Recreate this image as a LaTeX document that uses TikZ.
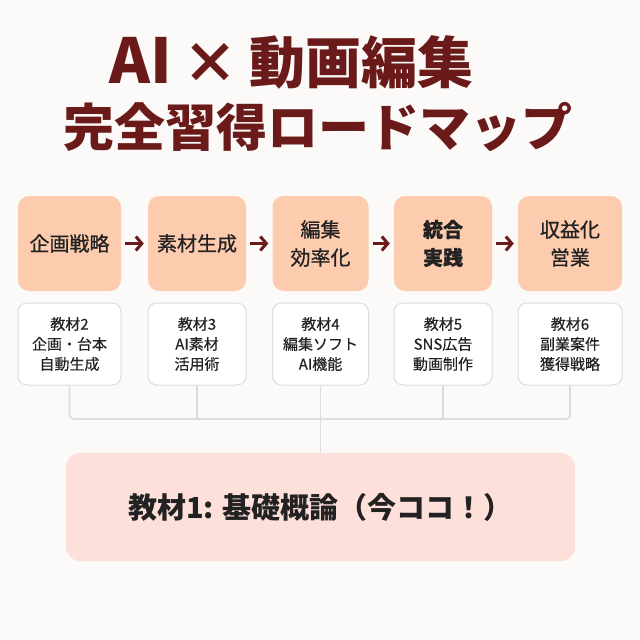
\documentclass[tikz,border=0pt]{standalone}
\usepackage{fontspec}
\setmainfont{Noto Sans CJK JP}
\newfontfamily\midfont[FakeBold=0.7]{Noto Sans CJK JP}
\newfontfamily\lightbold[FakeBold=0.35]{Noto Sans CJK JP}
\usetikzlibrary{arrows.meta}
\definecolor{wine}{HTML}{6B1A1A}
\definecolor{peach}{HTML}{FDCBAD}
\definecolor{blush}{HTML}{FEE0DA}
\definecolor{rim}{HTML}{DDDDDD}
\definecolor{paper}{HTML}{FBFAF8}
\definecolor{ink}{HTML}{222222}

\begin{document}
\begin{tikzpicture}[x=1pt,y=-1pt,
    stage/.style={fill=peach,rounded corners=11pt,inner sep=0pt,text=ink,
      minimum height=95pt,align=center,font=\fontsize{20}{28}\midfont},
    unit/.style={draw=rim,line width=1pt,fill=white,rounded corners=9pt,
      inner sep=0pt,minimum height=82pt,align=center,text=ink,
      font=\fontsize{15}{20}\lightbold},
    link/.style={draw=rim,line width=1.6pt},
    step arrow/.style={wine,line width=3pt,
      -{Straight Barb[length=6pt,width=14pt,line width=3pt]}}]
      \useasboundingbox (0,0) rectangle (640,640) ;
      \fill[paper] (0,0) rectangle (640,640) ;
      % title
      \node[wine,font=\fontsize{56}{60}\bfseries] (t1) at (291.5,62)
        {{\fontsize{62}{60}\selectfont AI}\hspace{-2pt} × \hspace{-2pt}動画編集} ;
      \node[wine,font=\fontsize{51}{60}\bfseries] (t2) at (318,127) {完全習得ロードマップ} ;
      % stages
      \node[stage,minimum width=103pt] (p1) at (69.5,243.5) {企画戦略} ;
      \node[stage,minimum width=98pt] (p2) at (197,243.5) {素材生成} ;
      \node[stage,minimum width=96pt] (p3) at (320.5,243.5) {編集\\効率化} ;
      \node[stage,minimum width=98pt] (p4) at (443,243.5) {\bfseries 統合\\\bfseries 実践} ;
      \node[stage,minimum width=104pt] (p5) at (570,243.5) {収益化\\営業} ;
      \foreach \a/\b in {p1/p2,p2/p3,p3/p4,p4/p5}
        \draw[step arrow] ([xshift=4pt]\a.east) -- ([xshift=-4pt]\b.west) ;
      % textbooks
      \node[unit,minimum width=103pt] (s1) at (69.5,344) {教材2\\企画・台本\\自動生成} ;
      \node[unit,minimum width=98pt] (s2) at (197,344) {教材3\\AI素材\\活用術} ;
      \node[unit,minimum width=96pt] (s3) at (320.5,344) {教材4\\編集ソフト\\AI機能} ;
      \node[unit,minimum width=98pt] (s4) at (443,344) {教材5\\SNS広告\\動画制作} ;
      \node[unit,minimum width=104pt] (s5) at (570,344) {教材6\\副業案件\\獲得戦略} ;
      % base
      \node[fill=blush,rounded corners=14pt,minimum width=509pt,minimum height=108pt,
        text=ink,font=\fontsize{29}{34}\bfseries] (base) at (320.5,507) {教材1: 基礎概論（今ココ！）} ;
      \coordinate (hub) at (320.5,419) ;
      \draw[link,rounded corners=4pt] (s1.south) |- (hub) -| (s5.south) ;
      \draw[link] (s2.south) -- (s2.south |- hub) ;
      \draw[link] (s4.south) -- (s4.south |- hub) ;
      \draw[link] (s3.south) -- (base.north) ;
    \end{tikzpicture}
\end{document}
